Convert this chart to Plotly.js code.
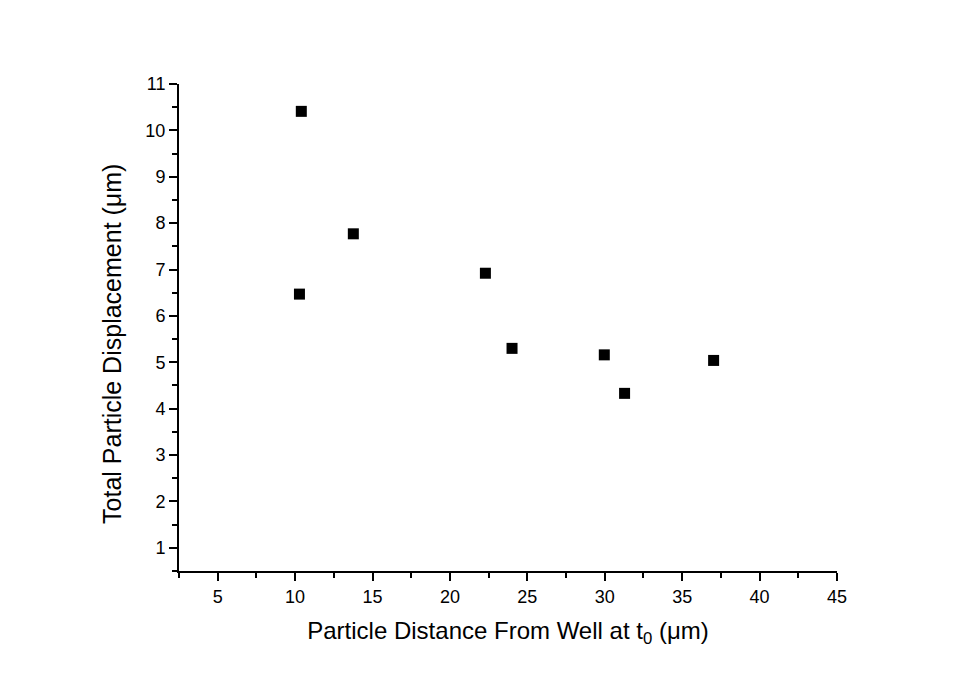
<!DOCTYPE html>
<html>
<head>
<meta charset="utf-8">
<script src="https://cdn.plot.ly/plotly-3.0.1.min.js"></script>
<style>html,body{margin:0;padding:0;background:#fff;}#chart{width:956px;height:675px;}</style>
</head>
<body>
<div id="chart"></div>
<script>
const distance = [10.40, 10.28, 13.76, 22.29, 24.01, 29.97, 31.28, 37.03];
const displacement = [10.41, 6.47, 7.77, 6.92, 5.30, 5.16, 4.33, 5.04];
const xTitle = 'Particle Distance From Well at t<sub>0</sub> (\u03bcm)';
const yTitle = 'Total Particle Displacement (\u03bcm)';

const trace = {
  x: distance, y: displacement, type: 'scatter', mode: 'markers',
  marker: {symbol: 'square', size: 11, color: '#000'},
  showlegend: false, hoverinfo: 'x+y'
};
const fam = 'Liberation Sans, Arial, sans-serif';
const layout = {
  width: 956, height: 675,
  margin: {l: 179, r: 119, t: 84, b: 104},
  paper_bgcolor: '#fff', plot_bgcolor: '#fff',
  font: {family: fam, color: '#000'},
  xaxis: {
    range: [2.5, 45], tick0: 5, dtick: 5, ticks: 'outside', ticklen: 8, tickwidth: 2,
    tickcolor: '#000', showline: true, linecolor: '#000', linewidth: 2,
    showgrid: false, zeroline: false,
    tickfont: {size: 18, family: fam, color: '#000'},
    minor: {ticks: 'outside', ticklen: 5, tickwidth: 2, tickcolor: '#000', tick0: 2.5, dtick: 5, showgrid: false},
    title: {text: xTitle, font: {size: 24, family: fam, color: '#000'}, standoff: 17}
  },
  yaxis: {
    range: [0.5, 11], tick0: 0, dtick: 1, ticks: 'outside', ticklen: 8, tickwidth: 2,
    tickcolor: '#000', showline: true, linecolor: '#000', linewidth: 2,
    showgrid: false, zeroline: false,
    tickfont: {size: 18, family: fam, color: '#000'},
    minor: {ticks: 'outside', ticklen: 5, tickwidth: 2, tickcolor: '#000', tick0: 0.5, dtick: 1, showgrid: false}
  },
  annotations: [{
    text: yTitle, xref: 'paper', yref: 'paper', x: -0.102, y: 0.466,
    xanchor: 'center', yanchor: 'middle', textangle: -90, showarrow: false,
    font: {size: 25, family: fam, color: '#000'}
  }]
};
Plotly.newPlot('chart', [trace], layout, {displayModeBar: false, staticPlot: true});
</script>
</body>
</html>
